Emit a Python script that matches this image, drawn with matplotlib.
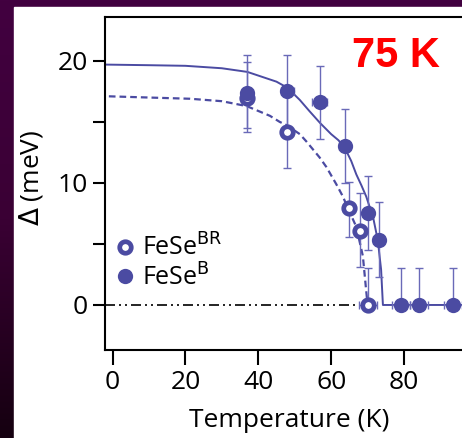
import matplotlib
matplotlib.use('Agg')
import matplotlib.pyplot as plt
import numpy as np
from matplotlib.lines import Line2D
from matplotlib.patches import Rectangle

plt.rcParams['font.family'] = ['Open Sans', 'DejaVu Sans']

# FeSe^B (filled): gap vs temperature, asymmetric error bars
fb_temp = [37.0, 48.0, 56.8, 63.7, 70.1, 73.1, 79.2, 84.1, 93.4]
fb_gap = [17.4, 17.5, 16.6, 13.0, 7.5, 5.3, 0.0, 0.0, 0.0]
fb_err_lo = [3.2, 3.0, 3.0, 3.0, 3.0, 3.0, 0.0, 0.0, 0.0]
fb_err_hi = [3.1, 3.0, 3.0, 3.1, 3.1, 3.1, 3.0, 3.0, 3.0]
fb_terr = [1.5, 1.8, 2.0, 1.5, 1.5, 1.5, 2.5, 2.5, 2.5]

# FeSe^BR (open)
br_temp = [36.8, 48.0, 64.8, 68.0, 70.1]
br_gap = [17.0, 14.2, 7.95, 6.1, 0.0]
br_err_lo = [2.5, 3.0, 2.4, 3.0, 0.0]
br_err_hi = [2.9, 3.0, 2.1, 3.1, 3.0]
br_terr = [1.5, 1.5, 1.5, 1.5, 2.5]

# fitted gap curves
fit_b_temp = [-2, 10, 20, 30, 37, 42, 45, 48, 51.4, 54, 57, 60, 62, 63.7, 65.5,
              66.9, 68.3, 69.6, 71.5, 72.8, 73.7, 74.2, 96]
fit_b_gap = [19.7, 19.65, 19.6, 19.4, 19.1, 18.6, 18.3, 17.8, 16.8, 15.9, 14.9,
             14.0, 13.5, 12.9, 11.8, 10.7, 9.8, 8.9, 7.2, 5.3, 2.9, 0.0, 0.0]
fit_br_temp = [-1, 10, 21.3, 30, 36.8, 40, 43.2, 45.9, 47.7, 51.4, 53.2, 56.8,
               58.7, 61.4, 63.2, 64.2, 66.9, 68.7, 69.6, 70.0]
fit_br_gap = [17.1, 17.0, 16.9, 16.7, 16.3, 15.9, 15.5, 15.0, 14.75, 14.0, 13.4,
              12.1, 11.3, 9.9, 8.9, 8.2, 6.4, 4.0, 1.2, 0.0]

# zero-gap reference line
ref_temp = [-2, 67]
ref_gap = [0, 0]

mark_color = '#4b4ba2'
bar_color = '#6a6ab8'

fig = plt.figure(figsize=(4.62, 4.38), dpi=100)

# dark slide background with a white panel
bg = fig.add_axes([0, 0, 1, 1], zorder=-5)
grad = np.linspace(0, 1, 256).reshape(-1, 1)
cmap = matplotlib.colors.LinearSegmentedColormap.from_list('bg', ['#420040', '#3a0034', '#150010'])
bg.imshow(grad, aspect='auto', cmap=cmap, extent=[0, 1, 0, 1], origin='upper')
bg.add_patch(Rectangle((14 / 462, 0), 1, 1 - 7 / 438, color='white'))
bg.set_xlim(0, 1)
bg.set_ylim(0, 1)
bg.axis('off')

ax = fig.add_axes([105 / 462, 88 / 438, 357 / 462, 333 / 438])
ax.patch.set_alpha(0)

ax.plot(ref_temp, ref_gap, color='black', lw=1.2, dashes=(6, 2.4, 1.2, 2.4, 1.2, 2.4), zorder=2)
ax.plot(fit_br_temp, fit_br_gap, color=mark_color, lw=1.6, dashes=(3, 1.8), zorder=2)
ax.plot(fit_b_temp, fit_b_gap, color=mark_color, lw=1.4, zorder=2)

ax.errorbar(br_temp, br_gap, yerr=[br_err_lo, br_err_hi], xerr=br_terr, fmt='none',
            ecolor=bar_color, elinewidth=1.0, capsize=3.2, capthick=1.0, zorder=3)
ax.errorbar(fb_temp, fb_gap, yerr=[fb_err_lo, fb_err_hi], xerr=fb_terr, fmt='none',
            ecolor=bar_color, elinewidth=1.0, capsize=3.2, capthick=1.0, zorder=3)
ax.plot(br_temp, br_gap, 'o', ms=8.3, mfc='white', mec=mark_color, mew=3.4, ls='none', zorder=4)
ax.plot(fb_temp, fb_gap, 'o', ms=11, mfc=mark_color, mec=mark_color, mew=0, ls='none', zorder=5)

ax.set_xlim(-2.06, 95.9)
ax.set_ylim(-3.69, 23.6)
ax.set_xticks([0, 20, 40, 60, 80])
ax.set_yticks([0, 10, 20])
ax.set_yticks([5, 15], minor=True)
ax.tick_params(axis='both', which='both', direction='out', width=1.5, labelsize=19)
ax.tick_params(axis='y', which='both', length=9, pad=3.5)
ax.tick_params(axis='x', which='both', length=10.5, pad=4)
for side in ['left', 'top', 'bottom']:
    ax.spines[side].set_linewidth(1.5)
ax.spines['right'].set_visible(False)

ax.set_xlabel('Temperature (K)', fontsize=19)
ax.set_ylabel(r'$\Delta$ (meV)', fontsize=19)
ax.xaxis.set_label_coords(0.515, -0.174)
ax.yaxis.set_label_coords(-0.168, 0.517)

ax.text(0.692, 0.85, '75 K', transform=ax.transAxes, color='#ff0000', fontsize=30,
        fontweight='bold', family='Liberation Sans', ha='left', va='baseline')

handles = [
    Line2D([], [], marker='o', ms=8.3, mfc='white', mec=mark_color, mew=3.4, ls='none'),
    Line2D([], [], marker='o', ms=11, mfc=mark_color, mec=mark_color, mew=0, ls='none'),
]
ax.legend(handles, [r'FeSe$^{\mathrm{BR}}$', r'FeSe$^{\mathrm{B}}$'], loc='upper left',
          bbox_to_anchor=(0.0, 0.37), frameon=False, fontsize=18, handlelength=1.0,
          handletextpad=0.2, labelspacing=0.1, borderpad=0, borderaxespad=0.3)

fig.savefig('out.png', dpi=100)
